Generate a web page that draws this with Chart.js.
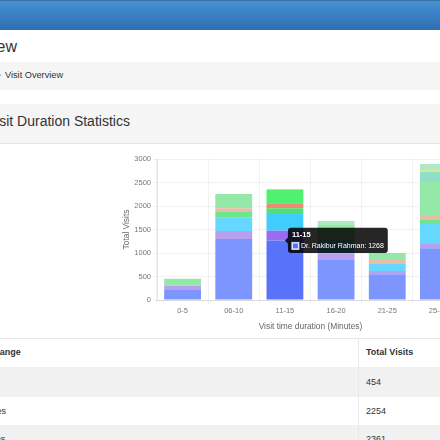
<!DOCTYPE html>
<html lang="en">
<head>
  <meta charset="UTF-8">
  <title>Visit Overview</title>
  <script src="https://cdn.jsdelivr.net/npm/chart.js"></script>
  <style>
    html, body { margin: 0; height: 100%; overflow: hidden; background: #fff; }
    body { font-family: 'Liberation Sans', sans-serif; color: #333; position: relative; width: 440px; height: 440px; }
    .abs { position: absolute; white-space: nowrap; }
    #topbar { left: 0; top: 0; width: 440px; height: 30px; background: linear-gradient(#4690d4, #2c6fb2); border-top: 1px solid #3a6f9f; box-sizing: border-box; }
    #pageTitle { left: -84px; top: 38px; font-size: 16px; line-height: 18px; }
    #crumb { left: 0; top: 62px; width: 440px; height: 28px; background: #f5f5f5; }
    #crumbMark { left: -2px; top: 69px; font-size: 9.2px; line-height: 13px; color: #777; }
    #crumbText { left: 5px; top: 69px; font-size: 9.2px; line-height: 13px; }
    #panel { left: 0; top: 104px; width: 440px; height: 40px; background: #f5f5f5; border-bottom: 1px solid #e4e4e4; box-sizing: border-box; }
    #panelText { left: -13px; top: 112px; font-size: 14px; line-height: 18px; }
    #chartBox { left: 122px; top: 150px; width: 342px; height: 185px; }
    #tableTop { left: 0; top: 338px; width: 440px; height: 1px; background: #e8e8e8; }
    #tableDiv { left: 358px; top: 338px; width: 1px; height: 102px; background: #e8e8e8; z-index: 2; }
    .row { left: 0; width: 440px; }
    .odd { background: #f1f1f1; }
    .cell { font-size: 9px; line-height: 12px; }
    .head { font-weight: bold; }
  </style>
</head>
<body>
  <div class="abs" id="topbar"></div>
  <div class="abs" id="pageTitle">Visit Overview</div>
  <div class="abs" id="crumb"></div>
  <div class="abs" id="crumbMark">›</div>
  <div class="abs" id="crumbText">Visit Overview</div>
  <div class="abs" id="panel"></div>
  <div class="abs" id="panelText">Visit Duration Statistics</div>
  <div class="abs" id="chartBox"><canvas id="durationChart" width="342" height="185"></canvas></div>
  <div class="abs" id="tableTop"></div>
  <div class="abs" id="tableDiv"></div>
  <div id="tableRows"></div>

  <script>
    const durations = ['0-5', '06-10', '11-15', '16-20', '21-25', '25-30'];
    const yTicks = [0, 500, 1000, 1500, 2000, 2500, 3000];

    const rakibur = [230, 1300, 1268, 850, 550, 1100];
    const doctorB = [70, 170, 207, 130, 67, 90];
    const doctorC = [10, 280, 375, 270, 149, 427];
    const doctorD = [0, 120, 100, 30, 0, 83];
    const doctorE = [0, 80, 110, 60, 84, 87];
    const doctorF = [144, 304, 280, 270, 130, 723];
    const doctorG = [0, 0, 21, 0, 20, 213];
    const doctorH = [0, 0, 0, 0, 0, 43];
    const doctorI = [0, 0, 0, 70, 0, 128];

    const rangeLabels = ['0-5 Minutes', '06-10 Minutes', '11-15 Minutes'];
    const rangeTotals = ['454', '2254', '2361'];

    function makeSet(label, data, color, hover) {
      return { label: label, data: data, backgroundColor: color, hoverBackgroundColor: hover, borderWidth: 0 };
    }

    const chart = new Chart(document.getElementById('durationChart').getContext('2d'), {
      type: 'bar',
      data: {
        labels: durations,
        datasets: [
          makeSet('Dr. Rakibur Rahman', rakibur, '#7d96ff', '#5873fa'),
          makeSet('Doctor B', doctorB, '#b8a0ee', '#9c6cf0'),
          makeSet('Doctor C', doctorC, '#66d8ff', '#40ccfc'),
          makeSet('Doctor D', doctorD, '#6fe68c', '#50e070'),
          makeSet('Doctor E', doctorE, '#e8bca8', '#f08878'),
          makeSet('Doctor F', doctorF, '#94e8a8', '#50f070'),
          makeSet('Doctor G', doctorG, '#8fe0c8', '#a8e8c0'),
          makeSet('Doctor H', doctorH, '#d0f090', '#c0f070'),
          makeSet('Doctor I', doctorI, '#b0e8c8', '#a0e8b8')
        ]
      },
      options: {
        responsive: false,
        animation: false,
        layout: { padding: { top: 9, right: 0, left: 0, bottom: 0 } },
        plugins: {
          legend: { display: false },
          tooltip: {
            backgroundColor: 'rgba(0,0,0,0.85)',
            titleFont: { family: 'Liberation Sans', size: 7.5, weight: 'bold' },
            bodyFont: { family: 'Liberation Sans', size: 7 },
            titleMarginBottom: 2,
            padding: { x: 4, y: 3 },
            cornerRadius: 3,
            boxWidth: 7,
            boxHeight: 7,
            caretPadding: 0,
            caretSize: 3,
            xAlign: 'left',
            yAlign: 'center',
            callbacks: {
              label: ctx => ctx.dataset.label + ': ' + ctx.raw,
              labelColor: () => ({ borderColor: '#d0d8ff', backgroundColor: '#5873fa', borderWidth: 1 })
            }
          }
        },
        scales: {
          x: {
            stacked: true,
            afterFit: axis => { axis.height = 35; },
            title: { display: true, text: 'Visit time duration (Minutes)', color: '#666', font: { family: 'Liberation Sans', size: 8.4 }, padding: { top: 3, bottom: 3 } },
            grid: { color: 'rgba(0,0,0,0.05)', tickLength: 4 },
            ticks: { color: '#777', font: { family: 'Liberation Sans', size: 7.5 }, maxRotation: 0, padding: 2 }
          },
          y: {
            stacked: true,
            min: 0,
            max: 3000,
            afterBuildTicks: axis => { axis.ticks = yTicks.map(v => ({ value: v })); },
            afterFit: axis => { axis.width = 35; },
            title: { display: true, text: 'Total Visits', color: '#666', font: { family: 'Liberation Sans', size: 8.4 }, padding: { top: 0, bottom: 3 } },
            grid: { color: 'rgba(0,0,0,0.05)', tickLength: 4 },
            ticks: { color: '#777', font: { family: 'Liberation Sans', size: 7.5 }, padding: 2, callback: v => v }
          }
        }
      }
    });

    // same hover state as the reference: stack at 11-15 lit, tooltip on the first series
    const hovered = chart.data.datasets.map((d, i) => ({ datasetIndex: i, index: 2 }));
    chart.setActiveElements(hovered);
    chart.tooltip.setActiveElements([{ datasetIndex: 0, index: 2 }], { x: 0, y: 0 });
    chart.update();

    // table rows
    const rowsEl = document.getElementById('tableRows');
    let html = '<div class="abs cell head" style="left:-30px;top:346px">Time Range</div>' +
      '<div class="abs cell head" style="left:366px;top:346px">Total Visits</div>';
    const rowTops = [367, 397, 425];
    const rowHeights = [30, 28, 15];
    const textTops = [376, 405, 433];
    rangeLabels.forEach((label, i) => {
      html += `<div class="abs row ${i % 2 === 0 ? 'odd' : ''}" style="top:${rowTops[i]}px;height:${rowHeights[i]}px"></div>`;
      html += `<div class="abs cell" style="left:-51px;top:${textTops[i]}px">${label}</div>`;
      html += `<div class="abs cell" style="left:366px;top:${textTops[i]}px">${rangeTotals[i]}</div>`;
    });
    rowsEl.innerHTML = html;
  </script>
</body>
</html>
